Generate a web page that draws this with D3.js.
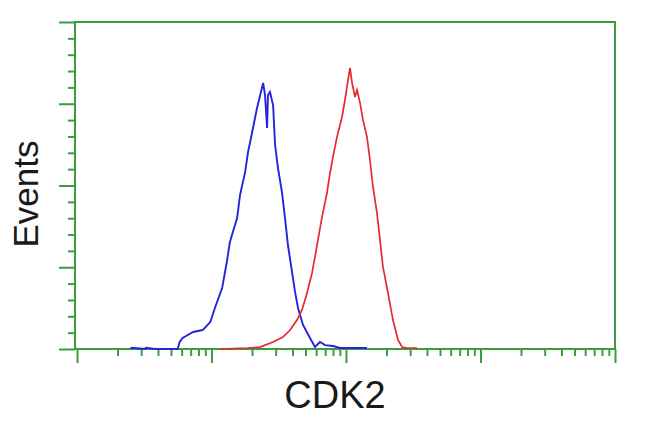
<!DOCTYPE html>
<html><head><meta charset="utf-8">
<script src="https://cdn.jsdelivr.net/npm/d3@7"></script>
<style>body{margin:0;background:#fff}svg{display:block}</style>
</head><body><svg id="c" width="650" height="432"></svg>
<script>
// Blue (control) histogram: intensity, events
const blueX = [2.5, 2.55, 3.2, 3.25, 3.8, 5.6, 5.8, 6.1, 7.3, 8.6, 9.8, 10.6, 12.0, 13.0, 13.7, 15.5, 16.3, 17.8, 18.7, 20.0, 21.8, 23.7, 24.2, 25.0, 25.9, 26.3, 27.2, 28.7, 29.7, 31.2, 33.4, 35.2, 37.0, 39.7, 41.8, 44.0, 47.9, 54.0, 58.8, 64.1, 69.8, 80.0, 90.2, 143];
const blueY = [0, 0.8, 0, 0.8, 0, 0, 4.3, 6.7, 10.4, 11.6, 16.5, 25.1, 37.3, 53.2, 65.4, 80.1, 94.2, 108.3, 120.5, 132.1, 147.4, 159.6, 162.7, 155.3, 135.2, 155.3, 157.2, 149.2, 124.8, 110.7, 96.0, 80.1, 63.6, 47.1, 34.9, 25.1, 14.7, 6.7, 1.2, 4.3, 2.4, 1.8, 0.6, 0.6];
// Red (CDK2) histogram: intensity, events
const redX = [11.6, 18.4, 22.9, 28.7, 34.0, 38.4, 43.2, 47.1, 51.3, 55.9, 58.8, 61.9, 66.3, 72.2, 76.0, 80.0, 85.7, 93.4, 98.3, 103.5, 107.1, 110.9, 116.7, 120.8, 127.1, 133.7, 143.2, 150.7, 158.8, 169.9, 178.9, 188.3, 205.3, 223.5, 243.5, 260.9, 284.1, 337.5];
const redY = [0, 0.6, 1.2, 4.3, 7.3, 11.6, 17.7, 23.9, 34.2, 46.5, 56.3, 66.7, 80.7, 95.4, 107.6, 117.4, 129.7, 141.9, 152.3, 164.5, 171.9, 162.7, 154.1, 158.4, 150.5, 140.1, 129.7, 115.6, 99.1, 83.2, 66.7, 50.2, 34.2, 17.7, 5.5, 1.2, 0.6, 0.6];
const xMajor = [1, 10, 100, 1000, 10000];
const yMajor = [0, 50, 100, 150, 200];
const xLabel = "CDK2";
const yLabel = "Events";

const svg = d3.select("#c");
const green = "#3d9c3d";
const L = 75, R = 615, T = 22, B = 349;
const x = d3.scaleLog().domain([1, 10000]).range([77, R]);
const y = d3.scaleLinear().domain([0, 200]).range([B, T]);

const xMinor = [];
for (let k = 0; k < 4; k++) for (let m = 2; m <= 9; m++) xMinor.push(m * Math.pow(10, k));
const yMinor = d3.range(0, 201, 10).filter(v => v % 50 !== 0);

// frame
svg.append("rect").attr("x", L).attr("y", T).attr("width", R - L).attr("height", B - T)
  .attr("fill", "none").attr("stroke", green).attr("stroke-width", 2);

function styleAxis(g) {
  g.select(".domain").remove();
  g.selectAll("line").attr("stroke", green).attr("stroke-width", 2);
  g.selectAll("text").remove();
}
svg.append("g").attr("transform", `translate(0,${B})`)
  .call(d3.axisBottom(x).tickValues(xMinor).tickSize(7).tickFormat("")).call(styleAxis);
svg.append("g").attr("transform", `translate(0,${B})`)
  .call(d3.axisBottom(x).tickValues(xMajor).tickSize(14).tickFormat("")).call(styleAxis);
svg.append("g").attr("transform", `translate(${L},0)`)
  .call(d3.axisLeft(y).tickValues(yMinor).tickSize(7).tickFormat("")).call(styleAxis);
svg.append("g").attr("transform", `translate(${L},0)`)
  .call(d3.axisLeft(y).tickValues(yMajor).tickSize(16).tickFormat("")).call(styleAxis);

const line = d3.line().x(d => x(d[0])).y(d => y(d[1]));
svg.append("path").datum(blueX.map((v, i) => [v, blueY[i]]))
  .attr("d", line).attr("fill", "none").attr("stroke", "#2424dc").attr("stroke-width", 1.9);
svg.append("path").datum(redX.map((v, i) => [v, redY[i]]))
  .attr("d", line).attr("fill", "none").attr("stroke", "#e8282c").attr("stroke-width", 1.7);

svg.append("text").attr("x", 335).attr("y", 408).attr("text-anchor", "middle")
  .attr("font-family", "Liberation Sans, Arial, sans-serif").attr("font-size", 38).attr("fill", "#1a1a1a").text(xLabel);
svg.append("text").attr("transform", "translate(38,194) rotate(-90)").attr("text-anchor", "middle")
  .attr("font-family", "Liberation Sans, Arial, sans-serif").attr("font-size", 35).attr("fill", "#1a1a1a").text(yLabel);
</script></body></html>
